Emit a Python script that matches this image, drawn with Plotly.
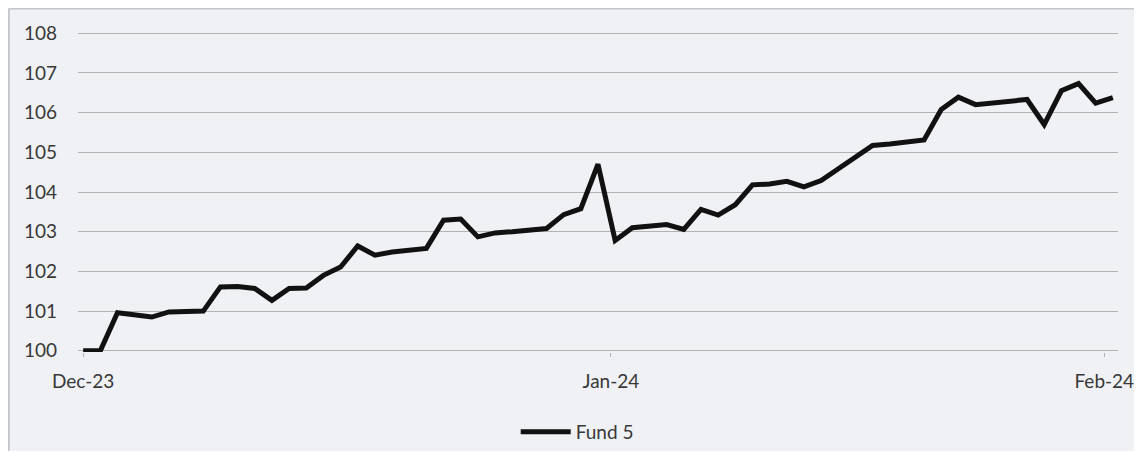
import plotly.graph_objects as go

series_name = "Fund 5"
fund5 = [
    100.0, 100.0, 100.96, 100.92, 100.85, 100.98, 101.0, 101.0, 101.61, 101.62,
    101.57, 101.27, 101.57, 101.58, 101.9, 102.11, 102.64, 102.41, 102.49, 102.53,
    102.58, 103.29, 103.32, 102.87, 102.97, 103.0, 103.04, 103.08, 103.43, 103.58,
    104.7, 102.78, 103.1, 103.14, 103.18, 103.06, 103.56, 103.42, 103.68, 104.18,
    104.2, 104.27, 104.13, 104.29, 104.58, 104.9, 105.17, 105.21, 105.25, 105.31,
    106.08, 106.39, 106.2, 106.24, 106.28, 106.33, 105.7, 106.55, 106.73, 106.24,
    106.38,
]
x_index = list(range(len(fund5)))
tick_positions = [0, 30.75, 59.5]
tick_labels = ["Dec-23", "Jan-24", "Feb-24"]
y_ticks = [100, 101, 102, 103, 104, 105, 106, 107, 108]

FONT = "Lato"
TXT = "#383838"
BG = "#eff1f5"

fig = go.Figure()
fig.add_trace(go.Scatter(
    x=x_index, y=fund5, mode="lines", name=series_name,
    line=dict(color="#111111", width=5),
))

fig.update_layout(
    width=1134, height=443,
    margin=dict(l=70, r=24, t=24, b=99, autoexpand=False),
    paper_bgcolor=BG, plot_bgcolor=BG,
    font=dict(family=FONT, size=19, color=TXT),
    showlegend=True,
    legend=dict(
        orientation="h", x=0.48, xanchor="center", y=-0.25, yanchor="middle",
        font=dict(family=FONT, size=19, color=TXT),
        bgcolor="rgba(0,0,0,0)", itemwidth=50,
    ),
    xaxis=dict(
        range=[-0.3, 60.3], showgrid=False, zeroline=False, automargin=False,
        tickmode="array", tickvals=tick_positions, ticktext=tick_labels,
        ticks="outside", ticklen=4, tickcolor="#b5b5b5",
        showline=False, ticklabelstandoff=8, ticklabeloverflow="allow",
    ),
    yaxis=dict(
        range=[99.97, 108.03], tickmode="array", tickvals=y_ticks,
        showgrid=True, gridcolor="#b3b3b3", gridwidth=1.2, automargin=False,
        zeroline=False, showline=False, ticks="",
        ticklabelstandoff=20,
    ),
    shapes=[
        dict(type="line", xref="paper", yref="paper", x0=-0.0665, x1=1.05,
             y0=1.0735, y1=1.0735, line=dict(color="#c4c6ca", width=2)),
        dict(type="line", xref="paper", yref="paper", x0=-0.0665, x1=-0.0665,
             y0=-0.32, y1=1.0735, line=dict(color="#c4c6ca", width=2)),
    ],
)

fig.write_html("out.html")
